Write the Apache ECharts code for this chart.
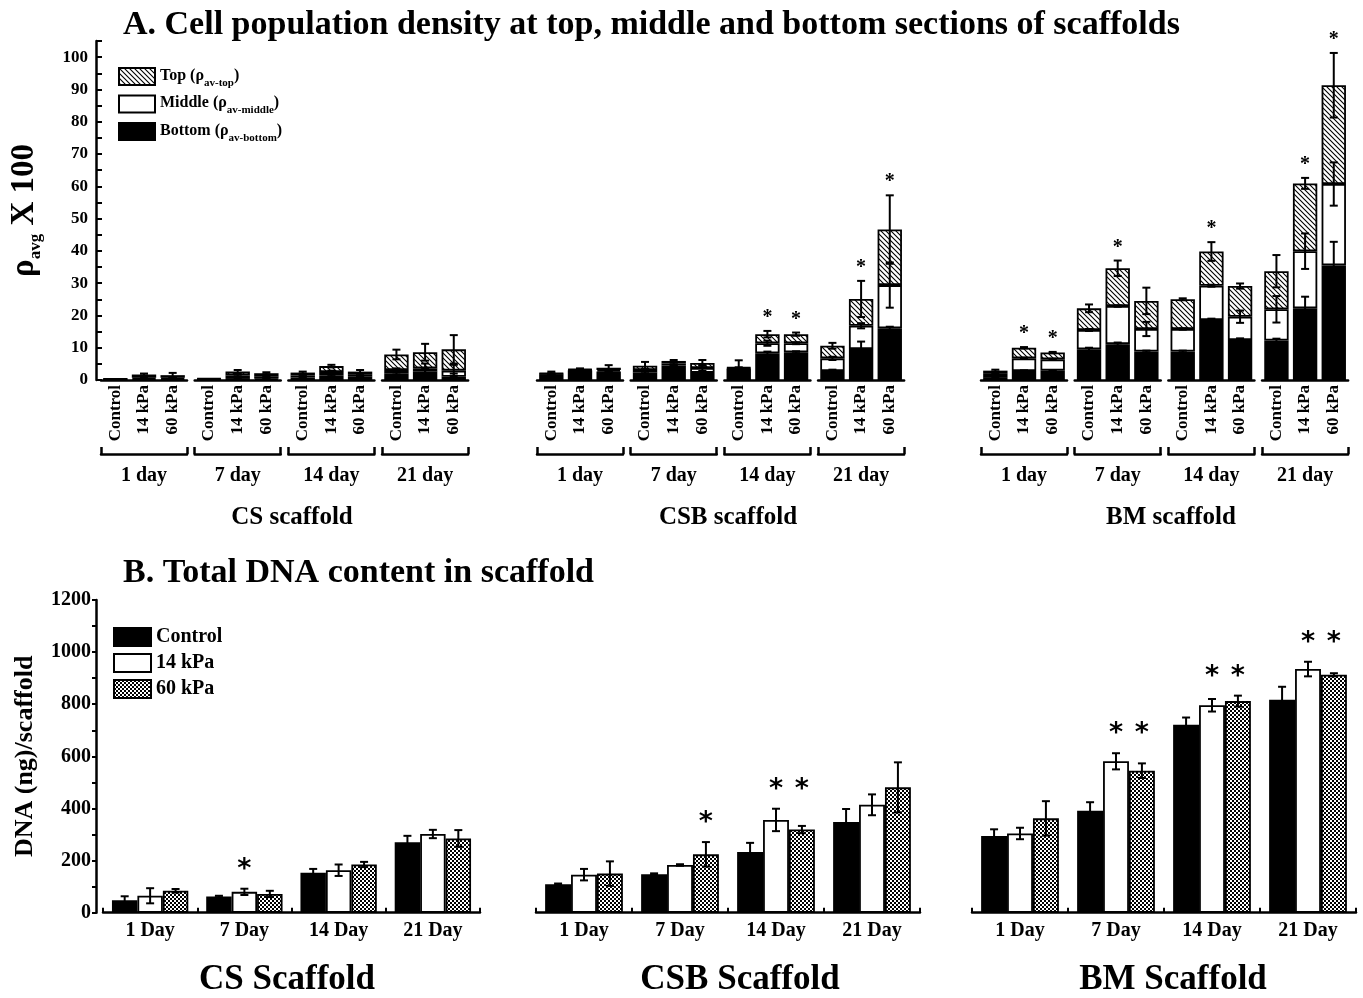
<!DOCTYPE html>
<html><head><meta charset="utf-8">
<script src="https://cdn.jsdelivr.net/npm/echarts@6/dist/echarts.min.js"></script>
<style>html,body{margin:0;padding:0;background:#fff}#c{width:1363px;height:998px}</style>
</head><body><div id="c"></div>
<script>
// ---------------- data ----------------
const conditions = ['Control', '14 kPa', '60 kPa'];
const daysA = ['1 day', '7 day', '14 day', '21 day'];
const scaffoldsA = ['CS scaffold', 'CSB scaffold', 'BM scaffold'];
const daysB = ['1 Day', '7 Day', '14 Day', '21 Day'];
const scaffoldsB = ['CS Scaffold', 'CSB Scaffold', 'BM Scaffold'];
const ticksA = [0, 10, 20, 30, 40, 50, 60, 70, 80, 90, 100];
const ticksB = [0, 200, 400, 600, 800, 1000, 1200];

// Panel A: rho_avg x 100, 12 values per array (1d C,14,60, 7d C,14,60, 14d ..., 21d ...)
const csBottomA  = [0.2,0.3,0.3, 0.2,0.6,0.4, 0.8,1.5,1.0, 2.1,2.6,1.0];
const csMiddleA  = [0.1,0.4,0.4, 0.1,0.8,0.6, 0.6,1.0,0.6, 1.0,1.0,1.9];
const csTopA     = [0.1,1.0,0.8, 0.2,1.2,1.1, 0.9,1.8,1.0, 4.8,5.0,6.6];
const csBottomErrA = [0,0.1,0.1, 0,0.2,0.2, 0.2,0.3,0.2, 0.4,0.8,1.0];
const csMiddleErrA = [0,0.1,0.1, 0,0.3,0.2, 0.2,0.4,0.3, 0.5,1.5,1.8];
const csTopErrA    = [0,0.3,0.7, 0,0.5,0.3, 0.3,0.4,0.5, 1.5,2.6,4.4];
const csStarA      = [0,0,0, 0,0,0, 0,0,0, 0,0,0];

const csbBottomA = [1.8,3.0,2.6, 2.3,4.5,2.2, 3.5,8.3,8.6, 2.8,9.6,16.0];
const csbMiddleA = [0.2,0.2,0.5, 0.8,0.6,1.5, 0.2,3.1,2.8, 3.9,7.2,13.4];
const csbTopA    = [0.1,0.2,0.7, 1.3,0.8,1.6, 0.2,2.8,2.8, 3.9,8.3,17.2];
const csbBottomErrA = [0.1,0.1,0.3, 0.3,0.2,0.4, 0.3,0.5,0.3, 0.4,2.3,0.5];
const csbMiddleErrA = [0.1,0.1,0.3, 0.3,0.3,0.9, 0.2,0.8,0.3, 0.5,0.8,7.0];
const csbTopErrA    = [0.5,0.2,0.8, 1.2,0.3,0.9, 2.2,1.0,0.5, 0.9,5.6,10.6];
const csbStarA      = [0,0,0, 0,0,0, 0,1,1, 0,1,1];

const bmBottomA = [0.9,2.8,2.9, 9.5,11.1,8.8, 8.8,18.6,12.4, 12.2,22.2,35.5];
const bmMiddleA = [1.0,3.9,3.5, 6.0,11.8,7.0, 7.0,10.6,7.2, 9.7,17.7,25.2];
const bmTopA    = [1.0,3.3,2.1, 6.7,11.7,8.7, 9.2,10.6,9.5, 11.8,21.0,30.6];
const bmBottomErrA = [0.2,0.2,0.2, 0.5,0.5,0.3, 0.3,0.4,0.5, 0.6,3.6,7.3];
const bmMiddleErrA = [0.2,0.2,0.2, 0.3,0.2,2.2, 0.2,0.3,1.9, 4.1,5.5,6.7];
const bmTopErrA    = [0.3,0.2,0.2, 1.2,2.4,4.1, 0.3,2.9,0.8, 5.0,1.7,10.0];
const bmStarA      = [0,1,1, 0,1,0, 0,1,0, 0,1,1];

// Panel B: DNA (ng)/scaffold, 4 values per array (1, 7, 14, 21 Day)
const csControlB = [48, 62, 153, 270];
const cs14B      = [65, 80, 163, 302];
const cs60B      = [84, 72, 185, 285];
const csControlErrB = [15, 3, 15, 25];
const cs14ErrB      = [29, 12, 22, 16];
const cs60ErrB      = [7, 12, 10, 32];
const csStarB = [[0,0,0],[0,1,0],[0,0,0],[0,0,0]];

const csbControlB = [109, 148, 233, 348];
const csb14B      = [146, 183, 356, 414];
const csb60B      = [150, 224, 319, 481];
const csbControlErrB = [3, 3, 35, 50];
const csb14ErrB      = [22, 3, 43, 40];
const csb60ErrB      = [47, 47, 14, 96];
const csbStarB = [[0,0,0],[0,0,1],[0,1,1],[0,0,0]];

const bmControlB = [294, 391, 721, 817];
const bm14B      = [304, 581, 796, 935];
const bm60B      = [362, 545, 812, 913];
const bmControlErrB = [26, 33, 28, 50];
const bm14ErrB      = [22, 31, 24, 28];
const bm60ErrB      = [66, 28, 21, 6];
const bmStarB = [[0,0,0],[0,1,1],[0,1,1],[0,1,1]];

// ---------------- styling helpers ----------------
const FONT = 'Liberation Serif';
function hatchPattern() {
  const s = 5, c = document.createElement('canvas'); c.width = c.height = s;
  const x = c.getContext('2d'); x.fillStyle = '#fff'; x.fillRect(0, 0, s, s);
  x.strokeStyle = '#000'; x.lineWidth = 1.1; x.beginPath();
  x.moveTo(-1, -1); x.lineTo(s + 1, s + 1);
  x.moveTo(-1, s - 1); x.lineTo(1, s + 1);
  x.moveTo(s - 1, -1); x.lineTo(s + 1, 1);
  x.stroke(); return c;
}
function checkPattern() {
  const s = 4, c = document.createElement('canvas'); c.width = c.height = s;
  const x = c.getContext('2d'); x.fillStyle = '#fff'; x.fillRect(0, 0, s, s);
  x.fillStyle = '#000'; x.fillRect(0, 0, 2, 2); x.fillRect(2, 2, 2, 2); return c;
}
const HATCH = { image: hatchPattern(), repeat: 'repeat' };
const CHECK = { image: checkPattern(), repeat: 'repeat' };

function errRender(nBars, gap) {
  return function (params, api) {
    const xi = api.value(0), v = api.value(1), e = api.value(2), k = api.value(3);
    const band = api.size([1, 0])[0];
    let dx = 0;
    if (nBars > 1) { const w = band * (1 - gap) / nBars; dx = -band / 2 + band * gap / 2 + w * (k + 0.5); }
    const x = api.coord([xi, v])[0] + dx;
    const yt = api.coord([xi, v + e])[1], yb = api.coord([xi, Math.max(v - e, 0)])[1];
    const cap = 4, st = { stroke: '#000', lineWidth: 2 };
    return { type: 'group', children: [
      { type: 'line', shape: { x1: x, y1: yt, x2: x, y2: yb }, style: st },
      { type: 'line', shape: { x1: x - cap, y1: yt, x2: x + cap, y2: yt }, style: st },
      { type: 'line', shape: { x1: x - cap, y1: yb, x2: x + cap, y2: yb }, style: st }
    ] };
  };
}
function starRender(nBars, gap, offPx, font) {
  return function (params, api) {
    const xi = api.value(0), v = api.value(1), k = api.value(2);
    const band = api.size([1, 0])[0];
    let dx = 0;
    if (nBars > 1) { const w = band * (1 - gap) / nBars; dx = -band / 2 + band * gap / 2 + w * (k + 0.5); }
    const p = api.coord([xi, v]);
    return { type: 'text', x: p[0] + dx, y: p[1] - offPx,
      style: { text: '*', font: font, fill: '#000', align: 'center', verticalAlign: 'middle' } };
  };
}

// ---------------- build option ----------------
const grids = [], xAxes = [], yAxes = [], series = [], graphics = [];
const lbl = (size) => ({ fontFamily: FONT, fontWeight: 'bold', fontSize: size, color: '#000' });
const blackLine = { lineStyle: { color: '#000', width: 2.5 } };

// Panel A
const A = [
  { b: csBottomA, m: csMiddleA, t: csTopA, eb: csBottomErrA, em: csMiddleErrA, et: csTopErrA, star: csStarA },
  { b: csbBottomA, m: csbMiddleA, t: csbTopA, eb: csbBottomErrA, em: csbMiddleErrA, et: csbTopErrA, star: csbStarA },
  { b: bmBottomA, m: bmMiddleA, t: bmTopA, eb: bmBottomErrA, em: bmMiddleErrA, et: bmTopErrA, star: bmStarA }
];
const aLeft = [101, 537, 981], aStep = 93.7, aW = 86, aTop = 41, aH = 339;
const aGap = 0.15;
A.forEach((sc, s) => {
  for (let d = 0; d < 4; d++) {
    const g = grids.length;
    grids.push({ left: aLeft[s] + d * aStep, top: aTop, width: aW, height: aH, outerBoundsMode: 'none' });
    const xi = xAxes.length;
    xAxes.push({ gridIndex: g, type: 'category', data: conditions, axisLine: blackLine,
      axisTick: { show: false }, axisLabel: Object.assign(lbl(17), { rotate: 90, margin: 5, interval: 0 }) });
    xAxes.push({ gridIndex: g, type: 'category', data: [daysA[d]], position: 'bottom', offset: 74,
      axisLine: blackLine, axisTick: { show: true, inside: true, length: 7, lineStyle: { color: '#000', width: 2.5 } },
      axisLabel: Object.assign(lbl(20), { margin: 12 }) });
    const yi = yAxes.length;
    const first = g === 0;
    yAxes.push({ gridIndex: g, type: 'value', min: 0, max: 105, interval: 5, show: first, offset: first ? 5 : 0,
      axisLine: { show: true, lineStyle: { color: '#000', width: 2.5 } },
      axisTick: { show: true, inside: true, length: 6, lineStyle: { color: '#000', width: 2 } },
      axisLabel: Object.assign(lbl(17), { margin: 8, formatter: v => ticksA.indexOf(v) >= 0 ? String(v) : '' }),
      splitLine: { show: false },
      name: first ? '{r|ρ}{s|avg}{r| X 100}' : '', nameLocation: 'middle', nameGap: 52,
      nameTextStyle: { rich: {
        r: { fontFamily: FONT, fontWeight: 'bold', fontSize: 33, color: '#000', verticalAlign: 'top', lineHeight: 36 },
        s: { fontFamily: FONT, fontWeight: 'bold', fontSize: 17, color: '#000', verticalAlign: 'top', lineHeight: 17, padding: [19, 0, 0, 0] } } }
    });
    const sl = (arr) => arr.slice(d * 3, d * 3 + 3);
    const layers = [['Bottom', sc.b, '#000'], ['Middle', sc.m, '#fff'], ['Top', sc.t, HATCH]];
    layers.forEach(([name, arr, col]) => {
      series.push({ type: 'bar', name, xAxisIndex: xi, yAxisIndex: yi, stack: 'st' + g, data: sl(arr),
        barCategoryGap: (aGap * 100) + '%', silent: true, animation: false,
        itemStyle: { color: col, borderColor: '#000', borderWidth: 1.8 } });
    });
    const errData = [], starData = [];
    for (let i = 0; i < 3; i++) {
      const j = d * 3 + i;
      const cb = sc.b[j], cm = cb + sc.m[j], ct = cm + sc.t[j];
      errData.push([i, cb, sc.eb[j], 0], [i, cm, sc.em[j], 0], [i, ct, sc.et[j], 0]);
      if (sc.star[j]) starData.push([i, ct + sc.et[j], 0]);
    }
    series.push({ type: 'custom', xAxisIndex: xi, yAxisIndex: yi, data: errData.filter(r => r[2] > 0), z: 5,
      encode: { x: 0, y: 1 }, renderItem: errRender(1, aGap), silent: true, animation: false });
    series.push({ type: 'custom', xAxisIndex: xi, yAxisIndex: yi, data: starData, z: 5,
      encode: { x: 0, y: 1 }, renderItem: starRender(1, aGap, 13, 'bold 20px "Liberation Serif"'), silent: true, animation: false });
  }
});
const aLabelX = [292, 728, 1171];
scaffoldsA.forEach((t, s) => graphics.push({ type: 'text', x: aLabelX[s], y: 518,
  style: { text: t, font: 'bold 25px "Liberation Serif"', fill: '#000', align: 'center', verticalAlign: 'middle' } }));

// Panel B
const B = [
  { vals: [csControlB, cs14B, cs60B], errs: [csControlErrB, cs14ErrB, cs60ErrB], star: csStarB },
  { vals: [csbControlB, csb14B, csb60B], errs: [csbControlErrB, csb14ErrB, csb60ErrB], star: csbStarB },
  { vals: [bmControlB, bm14B, bm60B], errs: [bmControlErrB, bm14ErrB, bm60ErrB], star: bmStarB }
];
const bGridX = [[103, 377], [536, 384], [972, 384]];
const bTop = 600, bH = 312.7, bGap = 0.19;
const bColors = ['#000', '#fff', CHECK];
B.forEach((sc, s) => {
  const g = grids.length;
  grids.push({ left: bGridX[s][0], top: bTop, width: bGridX[s][1], height: bH, outerBoundsMode: 'none' });
  const xi = xAxes.length;
  xAxes.push({ gridIndex: g, type: 'category', data: daysB, axisLine: blackLine,
    axisTick: { show: true, inside: true, length: 5, lineStyle: { color: '#000', width: 2 } },
    axisLabel: Object.assign(lbl(20), { margin: 8 }) });
  xAxes.push({ gridIndex: g, type: 'category', data: daysB, position: 'bottom', offset: 0,
    axisLine: { show: false }, axisTick: { show: true, inside: true, alignWithLabel: true, length: 5, lineStyle: { color: '#000', width: 2 } },
    axisLabel: { show: false } });
  const yi = yAxes.length;
  const first = s === 0;
  yAxes.push({ gridIndex: g, type: 'value', min: 0, max: 1200, interval: 100, show: first, offset: first ? 7 : 0,
    axisLine: { show: true, lineStyle: { color: '#000', width: 2.5 } },
    axisTick: { show: true, inside: false, length: 4, lineStyle: { color: '#000', width: 2 } },
    axisLabel: Object.assign(lbl(20), { margin: 5, formatter: v => ticksB.indexOf(v) >= 0 ? String(v) : '' }),
    splitLine: { show: false },
    name: first ? 'DNA (ng)/scaffold' : '', nameLocation: 'middle', nameGap: 58,
    nameTextStyle: lbl(26) });
  conditions.forEach((c, k) => {
    series.push({ type: 'bar', name: c, xAxisIndex: xi, yAxisIndex: yi, data: sc.vals[k],
      barGap: '0%', barCategoryGap: (bGap * 100) + '%', silent: true, animation: false,
      itemStyle: { color: bColors[k], borderColor: '#000', borderWidth: 1.8 } });
  });
  const errData = [], starData = [];
  for (let d = 0; d < 4; d++) {
    let mx = 0;
    for (let k = 0; k < 3; k++) {
      errData.push([d, sc.vals[k][d], sc.errs[k][d], k]);
      if (sc.star[d][k]) mx = Math.max(mx, sc.vals[k][d] + sc.errs[k][d]);
    }
    for (let k = 0; k < 3; k++) if (sc.star[d][k]) starData.push([d, mx, k]);
  }
  series.push({ type: 'custom', xAxisIndex: xi, yAxisIndex: yi, data: errData, z: 5,
    encode: { x: 0, y: 1 }, renderItem: errRender(3, bGap), silent: true, animation: false });
  series.push({ type: 'custom', xAxisIndex: xi, yAxisIndex: yi, data: starData, z: 5,
    encode: { x: 0, y: 1 }, renderItem: starRender(3, bGap, 19, 'bold 27px "DejaVu Sans"'), silent: true, animation: false });
});
const bLabelX = [287, 740, 1173];
scaffoldsB.forEach((t, s) => graphics.push({ type: 'text', x: bLabelX[s], y: 980,
  style: { text: t, font: 'bold 35px "Liberation Serif"', fill: '#000', align: 'center', verticalAlign: 'middle' } }));

const legendSub = { Top: 'av-top', Middle: 'av-middle', Bottom: 'av-bottom' };
const option = {
  backgroundColor: '#fff',
  animation: false,
  title: [
    { text: 'A. Cell population density at top, middle and bottom sections of scaffolds', left: 123, top: 8, padding: 0,
      textStyle: lbl(34) },
    { text: 'B. Total DNA content in scaffold', left: 123, top: 556, padding: 0, textStyle: lbl(34) }
  ],
  legend: [
    { data: ['Top', 'Middle', 'Bottom'], orient: 'vertical', left: 118, top: 67, itemWidth: 36, itemHeight: 17,
      itemGap: 6, selectedMode: false, padding: 0, icon: 'rect',
      formatter: n => '{m|' + n + ' (ρ}{s|' + legendSub[n] + '}{m|)}',
      textStyle: { rich: {
        m: { fontFamily: FONT, fontWeight: 'bold', fontSize: 16, color: '#000', verticalAlign: 'top', lineHeight: 18 },
        s: { fontFamily: FONT, fontWeight: 'bold', fontSize: 11, color: '#000', verticalAlign: 'top', lineHeight: 11, padding: [10, 0, 0, 0] } } } },
    { data: ['Control', '14 kPa', '60 kPa'], orient: 'vertical', left: 113, top: 627, itemWidth: 37, itemHeight: 18,
      itemGap: 6, selectedMode: false, padding: 0, icon: 'rect', textStyle: lbl(20) }
  ],
  grid: grids, xAxis: xAxes, yAxis: yAxes, series: series, graphic: graphics
};
const chart = echarts.init(document.getElementById('c'), null, { renderer: 'canvas' });
chart.setOption(option);
</script></body></html>
